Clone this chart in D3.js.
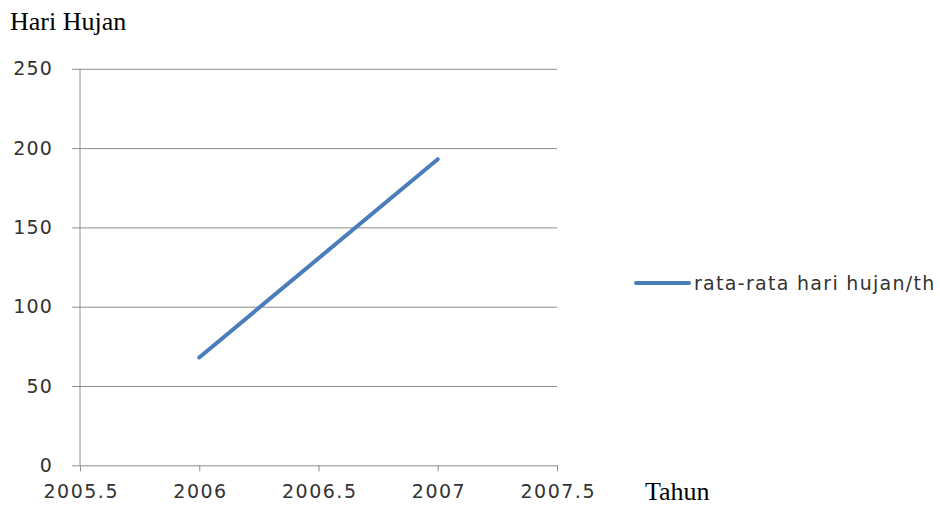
<!DOCTYPE html>
<html><head><meta charset="utf-8">
<script src="https://cdn.jsdelivr.net/npm/d3@7"></script>
<style>body{margin:0;background:#fff}svg{display:block}</style>
</head><body><div id="chart"></div>
<script>
const years = [2006, 2007];
const values = [68, 193];
const seriesName = "rata-rata hari hujan/th";
const xTicks = [2005.5, 2006, 2006.5, 2007, 2007.5];
const yTicks = [0, 50, 100, 150, 200, 250];
const yTitle = "Hari Hujan";
const xTitle = "Tahun";

const W = 940, H = 505;
const svg = d3.select("#chart").append("svg").attr("width", W).attr("height", H);
const x = d3.scaleLinear().domain([2005.5, 2007.5]).range([80, 557]);
const y = d3.scaleLinear().domain([0, 250]).range([465.3, 68.8]);
const tickFont = "'DejaVu Sans', sans-serif";
const grid = "#8c8c8c";

// gridlines + y axis
const ya = svg.append("g").attr("transform", "translate(80,0)")
  .call(d3.axisLeft(y).tickValues(yTicks).tickSize(8).tickPadding(19).tickFormat(d3.format("d")));
ya.select(".domain").remove();
ya.selectAll(".tick line").attr("stroke", grid).attr("x2", -8);
ya.selectAll(".tick").append("line").attr("x1", 0).attr("x2", 557 - 80).attr("stroke", grid);
ya.selectAll(".tick text").attr("font-family", tickFont).attr("font-size", 19).attr("fill", "#333")
  .attr("letter-spacing", "1.2px");

svg.append("line").attr("x1", 80).attr("x2", 80).attr("y1", y(250)).attr("y2", y(0)).attr("stroke", grid);

const xa = svg.append("g").attr("transform", `translate(0,${y(0)})`)
  .call(d3.axisBottom(x).tickValues(xTicks).tickSize(6).tickPadding(13).tickFormat(d => String(d)));
xa.select(".domain").remove();
xa.selectAll(".tick line").attr("stroke", grid);
xa.selectAll(".tick text").attr("font-family", tickFont).attr("font-size", 19).attr("fill", "#333")
  .attr("letter-spacing", "1.5px").attr("dx", "0.75px");

// line
const data = years.map((yr, i) => ({yr, v: values[i]}));
svg.append("path").datum(data)
  .attr("d", d3.line().x(d => x(d.yr)).y(d => y(d.v)))
  .attr("fill", "none").attr("stroke", "#4a7ebb").attr("stroke-width", 4).attr("stroke-linecap", "round");

// titles
svg.append("text").attr("x", 10).attr("y", 30).text(yTitle)
  .attr("font-family", "'Liberation Serif', serif").attr("font-size", 26).attr("fill", "#000");
svg.append("text").attr("x", 645).attr("y", 500).text(xTitle)
  .attr("font-family", "'Liberation Serif', serif").attr("font-size", 26).attr("fill", "#000");

// legend
const lg = svg.append("g");
lg.append("line").attr("x1", 636).attr("x2", 689).attr("y1", 283).attr("y2", 283)
  .attr("stroke", "#4a7ebb").attr("stroke-width", 4).attr("stroke-linecap", "round");
lg.append("text").attr("x", 694).attr("y", 290).text(seriesName)
  .attr("font-family", tickFont).attr("font-size", 19).attr("fill", "#333").attr("letter-spacing", "1.3px");
</script></body></html>
